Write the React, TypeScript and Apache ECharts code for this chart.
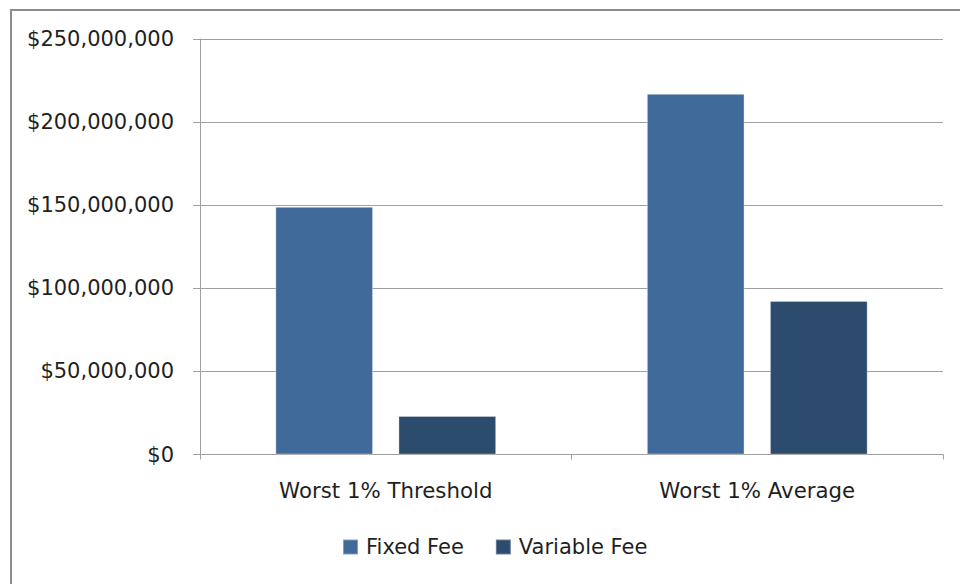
import React, { useEffect, useRef } from "react";
import * as echarts from "echarts";

const categories = ["Worst 1% Threshold", "Worst 1% Average"];
const fixedFee = [149000000, 217000000];
const variableFee = [23200000, 92400000];
const seriesNames = ["Fixed Fee", "Variable Fee"];

const FONT = "DejaVu Sans";
const TEXT = "#1f1f1f";
const GRID = "#a0a0a0";

function money(v: number) {
  return "$" + Math.round(v).toString().replace(/\B(?=(\d{3})+(?!\d))/g, ",");
}

export default function App() {
  const ref = useRef<HTMLDivElement>(null);
  useEffect(() => {
    if (!ref.current) return;
    const chart = echarts.init(ref.current, null, { renderer: "svg" });
    chart.setOption({
      animation: false,
      backgroundColor: "#ffffff",
      graphic: [
        {
          type: "rect",
          shape: { x: 11, y: 10, width: 980, height: 620 },
          style: { fill: "none", stroke: "#8c8c8c", lineWidth: 2 },
          silent: true,
        },
      ],
      grid: { left: 200, right: 17, top: 39, bottom: 129.5 },
      legend: {
        left: 342,
        top: 536,
        padding: 0,
        itemWidth: 15,
        itemHeight: 15,
        itemGap: 31,
        icon: "rect",
        data: seriesNames,
        textStyle: { fontFamily: FONT, fontSize: 21, color: TEXT, lineHeight: 22, padding: [0, 0, 0, 3] },
      },
      xAxis: {
        type: "category",
        data: categories,
        axisLine: { lineStyle: { color: GRID, width: 1 } },
        axisTick: { show: true, alignWithLabel: false, length: 5, lineStyle: { color: GRID } },
        axisLabel: { fontFamily: FONT, fontSize: 21.3, color: TEXT, margin: 25, lineHeight: 21 },
      },
      yAxis: {
        type: "value",
        min: 0,
        max: 250000000,
        interval: 50000000,
        axisLine: { show: true, lineStyle: { color: GRID, width: 1 } },
        axisTick: { show: true, length: 7, lineStyle: { color: GRID } },
        splitLine: { show: true, lineStyle: { color: GRID, width: 1 } },
        axisLabel: {
          fontFamily: FONT,
          fontSize: 21,
          color: TEXT,
          margin: 26,
          formatter: (v: number) => money(v),
        },
      },
      series: [
        {
          name: seriesNames[0],
          type: "bar",
          data: fixedFee,
          barWidth: "26.3%",
          barGap: "26%",
          itemStyle: { color: "#406a9a", borderColor: "rgba(255,255,255,0.35)", borderWidth: 1 },
        },
        {
          name: seriesNames[1],
          type: "bar",
          data: variableFee,
          barWidth: "26.3%",
          barGap: "26%",
          itemStyle: { color: "#2d4b6d", borderColor: "rgba(255,255,255,0.3)", borderWidth: 1 },
        },
      ],
    });
    return () => chart.dispose();
  }, []);
  return (
    <div
      ref={ref}
      style={{ position: "fixed", left: 0, top: 0, width: 960, height: 584 }}
    />
  );
}
